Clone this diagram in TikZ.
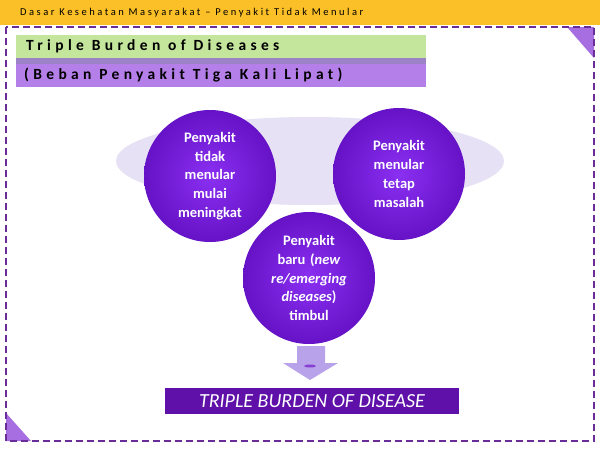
\documentclass[tikz,border=0pt]{standalone}
\usepackage{fontspec}
\setmainfont{Carlito}
\newfontfamily\spaced[LetterSpace=24]{Carlito}
\newfontfamily\widespaced[LetterSpace=28]{Carlito}
\usetikzlibrary{shapes.geometric}
\definecolor{hdr}{HTML}{FBBF28}
\definecolor{brd}{HTML}{6A2C99}
\definecolor{tri}{HTML}{A66EE0}
\definecolor{grn}{HTML}{C3E59C}
\definecolor{stripe}{HTML}{9E82C8}
\definecolor{lav}{HTML}{B57FEA}
\definecolor{ell}{HTML}{E6E1F5}
\definecolor{cin}{HTML}{8A30F2}
\definecolor{cout}{HTML}{6612C6}
\definecolor{arr}{HTML}{B8A2EA}
\definecolor{boxc}{HTML}{5E10A8}
\tikzset{
  bubble/.style={circle, minimum size=132pt, inner sep=0pt, inner color=cin, outer color=cout,
    text=white, font=\bfseries\fontsize{14.5}{18.7}\selectfont, align=center, text width=86pt},
}
\begin{document}
\begin{tikzpicture}[x=1pt,y=-1pt]
\useasboundingbox (0,0) rectangle (600,450);
\fill[white] (0,0) rectangle (600,450);
% header
\fill[hdr] (0,0) rectangle (600,25);
\node[anchor=west, inner sep=0pt, font=\spaced\fontsize{10.5}{11}\selectfont] (hdrtxt) at (20,13) {Dasar Kesehatan Masyarakat – Penyakit Tidak Menular};
% corner triangles
\fill[tri] (567,27) -- (594,27) -- (594,58) -- cycle;
\fill[tri] (6,413) -- (6,441) -- (31,441) -- cycle;
% dashed frame
\draw[brd, line width=2pt, dash pattern=on 7pt off 4pt] (6,27) rectangle (594,441);
% title bands
\fill[grn] (16,35) rectangle (426,58);
\fill[stripe] (16,58) rectangle (426,64);
\fill[lav] (16,64) rectangle (426,87);
\node[anchor=west, inner sep=0pt, font=\widespaced\bfseries\fontsize{15.5}{16}\selectfont] (title) at (26,46) {Triple Burden of Diseases};
\node[anchor=west, inner sep=0pt, font=\widespaced\bfseries\fontsize{15.5}{16}\selectfont] (subtitle) at (24,75) {(Beban Penyakit Tiga Kali Lipat)};
% ellipse
\fill[ell] (310,161) ellipse [x radius=194, y radius=44];
% circles
\node[bubble] (c1) at (210,176) {Penyakit\\tidak\\menular\\mulai\\meningkat};
\node[bubble] (c2) at (399,174) {Penyakit\\menular\\tetap\\masalah};
\node[bubble] (c3) at (309,278) {Penyakit\\baru (\textit{new}\\\textit{re/emerging}\\\textit{diseases})\\timbul};
% arrow
\coordinate (atip) at (310,380);
\fill[arr] (297,346) -- (325,346) -- (325,363) -- (338,363) -- (atip) -- (283,363) -- (297,363) -- cycle;
\fill[cout!80] (310,366) ellipse [x radius=6, y radius=1.5];
% bottom box
\node[fill=boxc, text=white, minimum width=294pt, minimum height=26pt, inner sep=0pt,
  font=\itshape\fontsize{20}{21}\selectfont] (box) at (312,401) {TRIPLE BURDEN OF DISEASE};
\end{tikzpicture}
\end{document}
